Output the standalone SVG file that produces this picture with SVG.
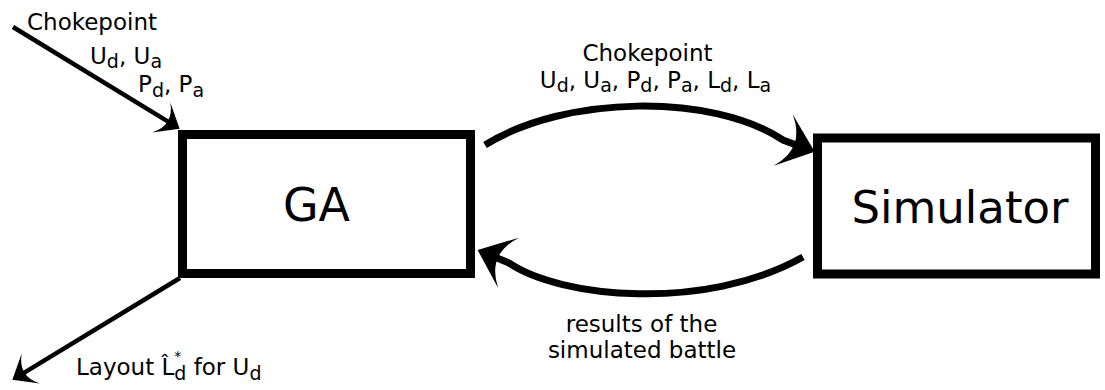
<svg xmlns="http://www.w3.org/2000/svg" width="1105" height="390" viewBox="0 0 1105 390">
  <style>
    .box { fill: #ffffff; stroke: #000000; stroke-width: 9; }
    .name { font-family: "DejaVu Sans", "Liberation Sans", sans-serif; fill: #000000; text-anchor: middle; }
    .lbl { font-family: "DejaVu Sans", "Liberation Sans", sans-serif; font-size: 23px; fill: #000000; }
    .mid { text-anchor: middle; }
    .sub { font-size: 19px; }
    .edge { fill: none; stroke: #000000; stroke-linecap: butt; marker-end: url(#arrow); }
    .thin { stroke-width: 4.5; }
    .thick { stroke-width: 7; }
  </style>
  <defs>
    <!-- notched arrowhead, sized in stroke widths; the path ends at the notch -->
    <marker id="arrow" markerUnits="strokeWidth" viewBox="-5 -4.2 6 8.4" markerWidth="6" markerHeight="8.4" refX="-3" refY="0" orient="auto" overflow="visible">
      <path d="M0,0 L-4.8,-3.9 Q-1.4,0 -4.8,3.9 Z" fill="#000000"/>
    </marker>
  </defs>

  <rect width="1105" height="390" fill="#ffffff"/>

  <g id="connectors">
    <path id="input" class="edge thin" d="M13,27 L168.1,121.7"/>
    <path id="output" class="edge thin" d="M180,278 L23.9,372.8"/>
    <path id="ga-to-sim" class="edge thick" d="M485,145 C 565,95 712,93 783,140 L 795,144.5"/>
    <path id="sim-to-ga" class="edge thick" d="M803,257 C 705,312 560,298 509,263 L 497,258"/>
  </g>

  <g id="ga">
    <rect class="box" x="182.5" y="134.5" width="288" height="139"/>
    <text class="name" x="316.5" y="221" font-size="46">GA</text>
  </g>

  <g id="simulator">
    <rect class="box" x="817.5" y="138" width="278" height="136"/>
    <text class="name" x="960" y="222.5" font-size="45">Simulator</text>
  </g>

  <g id="labels">
    <text class="lbl" x="27" y="30">Chokepoint</text>
    <text class="lbl" x="90" y="63.5">U<tspan class="sub" dy="4.5">d</tspan><tspan dy="-4.5">, U</tspan><tspan class="sub" dy="4.5">a</tspan></text>
    <text class="lbl" x="138" y="92">P<tspan class="sub" dy="4.5">d</tspan><tspan dy="-4.5">, P</tspan><tspan class="sub" dy="4.5">a</tspan></text>

    <text class="lbl mid" x="647.5" y="60.5">Chokepoint</text>
    <text class="lbl mid" x="655.5" y="87.5">U<tspan class="sub" dy="4.5">d</tspan><tspan dy="-4.5">, U</tspan><tspan class="sub" dy="4.5">a</tspan><tspan dy="-4.5">, P</tspan><tspan class="sub" dy="4.5">d</tspan><tspan dy="-4.5">, P</tspan><tspan class="sub" dy="4.5">a</tspan><tspan dy="-4.5">, L</tspan><tspan class="sub" dy="4.5">d</tspan><tspan dy="-4.5">, L</tspan><tspan class="sub" dy="4.5">a</tspan></text>

    <text class="lbl mid" x="641.5" y="332">results of the</text>
    <text class="lbl mid" x="642" y="358">simulated battle</text>

    <text class="lbl" x="76" y="375">Layout L̂<tspan font-size="14" dy="-14">*</tspan><tspan class="sub" dx="-7" dy="18.5">d</tspan><tspan dy="-4.5"> for U</tspan><tspan class="sub" dy="4.5">d</tspan></text>
  </g>
</svg>
